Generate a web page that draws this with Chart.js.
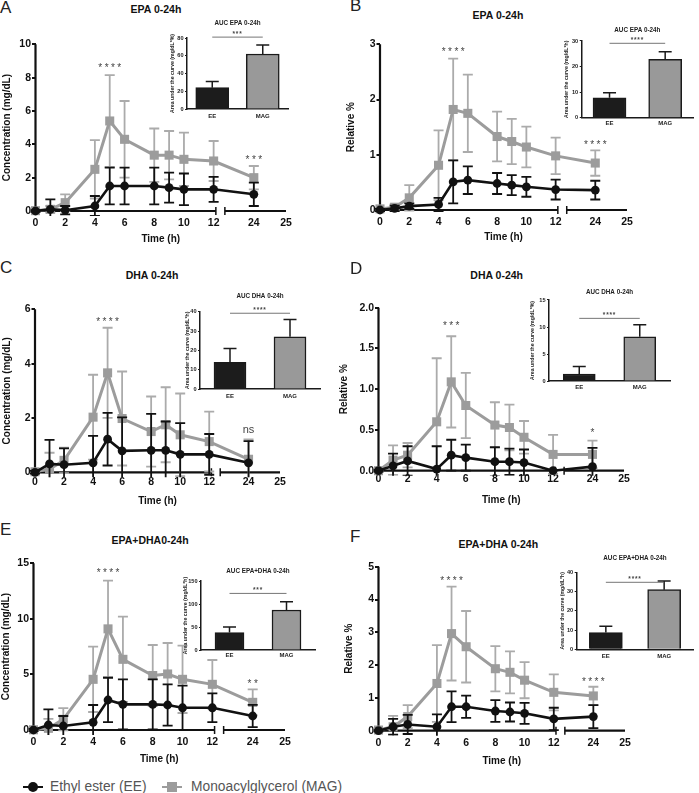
<!DOCTYPE html>
<html><head><meta charset="utf-8">
<script src="https://cdn.jsdelivr.net/npm/chart.js@4.4.1/dist/chart.umd.min.js"></script>
<style>
html,body{margin:0;padding:0;background:#fff;}
#page{position:relative;width:699px;height:793px;overflow:hidden;font-family:"Liberation Sans",Arial,sans-serif;background:#fff;}
.letter{position:absolute;font-size:17px;line-height:20px;color:#222;}
.ptitle{position:absolute;width:200px;text-align:center;font-weight:bold;font-size:10.5px;line-height:13px;color:#111;white-space:nowrap;}
.leg{position:absolute;font-size:15.5px;line-height:18px;color:#555;white-space:nowrap;transform:scaleX(0.89);transform-origin:left center;}
.blk{position:absolute;}
</style></head>
<body><div id="page"></div>
<script>
// ---------------- DATA ----------------
const TIMES = [0, 1, 2, 4, 5, 6, 8, 9, 10, 12, 24];
const X_TICKS = [0, 2, 4, 6, 8, 10, 12, 24, 25];
const SERIES_LABELS = ['Ethyl ester (EE)', 'Monoacylglycerol (MAG)'];
const AUC_LABELS = ['EE', 'MAG'];

// A: EPA concentration
const A_EE     = [0, 0.1, 0.05, 0.3, 1.5, 1.5, 1.5, 1.4, 1.3, 1.3, 1.0];
const A_EE_SD  = [0.05, 0.6, 0.25, 0.6, 1.1, 1.1, 1.1, 0.9, 0.95, 0.75, 0.7];
const A_MAG    = [0.02, 0.1, 0.5, 2.5, 5.4, 4.3, 3.35, 3.35, 3.1, 3.0, 2.0];
const A_MAG_SD = [0.05, 0.2, 0.5, 1.75, 2.75, 2.3, 1.6, 1.45, 1.6, 1.2, 0.7];
const A_MARKS  = [[5, 8.76, '****'], [24, 3.26, '***']];
const A_AUC = [24, 62], A_AUC_SD = [7, 10], A_AUC_SIG = [81, '***'];

// B: EPA relative %
const B_EE     = [0, 0.03, 0.07, 0.1, 0.51, 0.54, 0.48, 0.45, 0.42, 0.37, 0.36];
const B_EE_SD  = [0.02, 0.05, 0.05, 0.12, 0.39, 0.25, 0.19, 0.18, 0.18, 0.18, 0.17];
const B_MAG    = [0.02, 0.05, 0.22, 0.81, 1.82, 1.75, 1.33, 1.24, 1.14, 0.98, 0.85];
const B_MAG_SD = [0.02, 0.05, 0.23, 0.63, 0.92, 0.70, 0.45, 0.41, 0.37, 0.33, 0.23];
const B_MARKS  = [[5, 2.91, '****'], [24, 1.24, '****']];
const B_AUC = [7.8, 22.8], B_AUC_SD = [2.0, 3.0], B_AUC_SIG = [29.1, '****'];

// C: DHA concentration
const C_EE     = [0, 0.31, 0.28, 0.35, 1.22, 0.79, 0.81, 0.81, 0.66, 0.66, 0.35];
const C_EE_SD  = [0.05, 0.88, 0.6, 0.99, 0.97, 1.23, 1.34, 1.06, 1.15, 0.75, 0.8];
const C_MAG    = [0.02, 0.12, 0.44, 2.03, 3.66, 1.98, 1.5, 1.75, 1.38, 1.13, 0.48];
const C_MAG_SD = [0.05, 0.6, 0.47, 1.56, 1.66, 1.73, 1.29, 1.38, 1.52, 1.1, 0.73];
const C_MARKS  = [[5, 5.63, '****'], [24, 1.56, 'ns']];
const C_AUC = [13.8, 27], C_AUC_SD = [7.1, 9], C_AUC_SIG = [39.2, '****'];

// D: DHA relative %
const D_EE     = [0, 0.06, 0.12, 0.02, 0.19, 0.16, 0.11, 0.11, 0.1, 0.0, 0.05];
const D_EE_SD  = [0.01, 0.15, 0.18, 0.28, 0.19, 0.16, 0.18, 0.16, 0.16, 0, 0.23];
const D_MAG    = [0.0, 0.13, 0.19, 0.6, 1.09, 0.8, 0.56, 0.53, 0.41, 0.2, 0.2];
const D_MAG_SD = [0.01, 0.18, 0.15, 0.78, 0.56, 0.4, 0.28, 0.28, 0.2, 0.24, 0.17];
const D_MARKS  = [[5, 1.81, '***'], [24, 0.5, '*']];
const D_AUC = [1.3, 8.2], D_AUC_SD = [1.4, 2.2], D_AUC_SIG = [11.6, '****'];

// E: EPA+DHA concentration
const E_EE     = [0, 0.45, 0.36, 0.69, 2.7, 2.31, 2.31, 2.25, 2.0, 2.0, 1.26];
const E_EE_SD  = [0.1, 1.41, 0.9, 1.56, 2.0, 2.25, 2.25, 1.86, 2.0, 1.3, 1.0];
const E_MAG    = [0.02, 0.15, 0.96, 4.56, 9.1, 6.36, 4.9, 5.04, 4.56, 4.11, 2.49];
const E_MAG_SD = [0.1, 0.85, 1.0, 2.94, 4.35, 3.84, 2.75, 2.79, 3.03, 2.19, 1.17];
const E_MARKS  = [[5, 14.4, '****'], [24, 4.43, '**']];
const E_AUC = [38, 87], E_AUC_SD = [12, 18], E_AUC_SIG = [123, '***'];

// F: EPA+DHA relative %
const F_EE     = [0, 0.12, 0.19, 0.12, 0.73, 0.73, 0.6, 0.57, 0.53, 0.36, 0.43];
const F_EE_SD  = [0.02, 0.24, 0.29, 0.38, 0.47, 0.34, 0.33, 0.29, 0.32, 0.34, 0.35];
const F_MAG    = [0.02, 0.12, 0.43, 1.44, 2.96, 2.56, 1.89, 1.78, 1.54, 1.17, 1.06];
const F_MAG_SD = [0.02, 0.33, 0.35, 1.17, 1.43, 1.09, 0.69, 0.64, 0.55, 0.55, 0.28];
const F_MARKS  = [[5, 4.65, '****'], [24, 1.57, '****']];
const F_AUC = [8.7, 31], F_AUC_SD = [3.3, 4.5], F_AUC_SIG = [34.8, '****'];

const PANEL_KEYS = ['A', 'B', 'C', 'D', 'E', 'F'];
const MAIN_TITLES = ['EPA 0-24h', 'EPA 0-24h', 'DHA 0-24h', 'DHA 0-24h', 'EPA+DHA0-24h', 'EPA+DHA 0-24h'];
const Y_TITLES = ['Concentration (mg/dL)', 'Relative %', 'Concentration (mg/dL)', 'Relative %', 'Concentration (mg/dL)', 'Relative %'];
const Y_MAX = [10, 3, 6, 2, 15, 5];
const Y_STEP = [2, 1, 2, 0.5, 5, 1];
const Y_DECIMALS = [0, 0, 0, 1, 0, 0];
const AUC_TITLES = ['AUC EPA 0-24h', 'AUC EPA 0-24h', 'AUC DHA 0-24h', 'AUC DHA 0-24h', 'AUC EPA+DHA 0-24h', 'AUC EPA+DHA 0-24h'];
const AUC_Y_TITLES = ['Area under the curve (mg/dL*%)', 'Area under the curve (mg/dL*h)', 'Area under the curve (mg/dL*h)',
                      'Area under the curve (mg/dL*%)', 'Area under the curve (mg/dL*h)', 'Area under the curve (mg/dL*h)'];
const AUC_Y_MAX = [80, 30, 40, 15, 150, 40];
const AUC_Y_STEP = [20, 10, 10, 5, 50, 10];

// ---------------- LAYOUT (pixels) ----------------
const LETTER_POS = {A:[0,-1.7], B:[350,-3.7], C:[0,258.3], D:[350,258.6], E:[0,519.6], F:[350,526.6]};
const TITLE_POS = {A:[156,9.5], B:[498,15], C:[152,275], D:[496.7,275], E:[150,540], F:[498.3,544]};
const MAIN_LAYOUT = {
  A:{ytitle:7,   x0:35.5,  x1:286, yTop:44.3,  yBot:211,   xlab:223.3, timeY:239},
  B:{ytitle:351, x0:380,   x1:627, yTop:44.3,  yBot:210,   xlab:221.7, timeY:237.3},
  C:{ytitle:6.7, x0:35,    x1:280, yTop:309.3, yBot:472.3, xlab:482.3, timeY:501.7},
  D:{ytitle:344, x0:378.5, x1:624, yTop:307.7, yBot:470.7, xlab:479,   timeY:499.3},
  E:{ytitle:6,   x0:33.5,  x1:285, yTop:563.3, yBot:730,   xlab:742.3, timeY:759.3},
  F:{ytitle:349, x0:378.5, x1:625, yTop:566.7, yBot:730.7, xlab:742.7, timeY:760.7}
};
const INSET_LAYOUT = {
  A:{ylab:172, ix0:187,   ix1:288,   iyTop:38,    iyBot:109,   titleY:22.3,  catY:116,   bar:33},
  B:{ylab:566, ix0:581.7, ix1:693,   iyTop:41,    iyBot:117.7, titleY:30,    catY:123.3, bar:33},
  C:{ylab:187, ix0:200,   ix1:320,   iyTop:311.7, iyBot:389,   titleY:296,   catY:396.7, bar:32},
  D:{ylab:532, ix0:549,   ix1:670,   iyTop:300,   iyBot:381,   titleY:292,   catY:387.3, bar:32},
  E:{ylab:185, ix0:201,   ix1:315,   iyTop:581,   iyBot:650,   titleY:570.7, catY:655,   bar:29},
  F:{ylab:562, ix0:576.7, ix1:693.3, iyTop:572.3, iyBot:649.3, titleY:557.3, catY:656,   bar:33}
};
const BRK = {a: 12.15, b: 23.1, f1: 0.72, g: 0.036};
const ERR_BELOW_AXIS = 5;   // px an error bar may run below the x axis
const FONT = '"Liberation Sans", Arial, sans-serif';
const EE_COLOR = '#111111', MAG_COLOR = '#9c9c9c', MAG_ERR = '#ababab';

const PANEL_DATA = {
  A:{ee:A_EE, eeSd:A_EE_SD, mag:A_MAG, magSd:A_MAG_SD, marks:A_MARKS, auc:A_AUC, aucSd:A_AUC_SD, sig:A_AUC_SIG},
  B:{ee:B_EE, eeSd:B_EE_SD, mag:B_MAG, magSd:B_MAG_SD, marks:B_MARKS, auc:B_AUC, aucSd:B_AUC_SD, sig:B_AUC_SIG},
  C:{ee:C_EE, eeSd:C_EE_SD, mag:C_MAG, magSd:C_MAG_SD, marks:C_MARKS, auc:C_AUC, aucSd:C_AUC_SD, sig:C_AUC_SIG},
  D:{ee:D_EE, eeSd:D_EE_SD, mag:D_MAG, magSd:D_MAG_SD, marks:D_MARKS, auc:D_AUC, aucSd:D_AUC_SD, sig:D_AUC_SIG},
  E:{ee:E_EE, eeSd:E_EE_SD, mag:E_MAG, magSd:E_MAG_SD, marks:E_MARKS, auc:E_AUC, aucSd:E_AUC_SD, sig:E_AUC_SIG},
  F:{ee:F_EE, eeSd:F_EE_SD, mag:F_MAG, magSd:F_MAG_SD, marks:F_MARKS, auc:F_AUC, aucSd:F_AUC_SD, sig:F_AUC_SIG}
};

// ---------------- broken time scale ----------------
const LinearBase = Chart.LinearScale || Chart.registry.getScale('linear');
class BrokenTimeScale extends LinearBase {
  buildTicks() { return X_TICKS.map(v => ({value: v})); }
  _dec(v) {
    const {a, b, f1, g} = BRK; const min = this.min, max = this.max;
    if (v <= a) return (v - min) / (a - min) * f1;
    if (v >= b) return f1 + g + (v - b) / (max - b) * (1 - f1 - g);
    return f1 + (v - a) / (b - a) * g;
  }
  getPixelForValue(v) { return (v === null || v === undefined) ? NaN : this.getPixelForDecimal(this._dec(v)); }
  getValueForPixel(p) {
    const d = this.getDecimalForPixel(p); const {a, b, f1, g} = BRK; const min = this.min, max = this.max;
    if (d <= f1) return min + d / f1 * (a - min);
    if (d >= f1 + g) return b + (d - f1 - g) / (1 - f1 - g) * (max - b);
    return a + (d - f1) / g * (b - a);
  }
}
BrokenTimeScale.id = 'brokenTime';
Chart.register(BrokenTimeScale);

// ---------------- plugins ----------------
const errorBarPlugin = {
  id: 'errorBars',
  beforeDatasetDraw(chart, args) {
    const ds = chart.data.datasets[args.index];
    if (!ds.errors) return;
    const ctx = chart.ctx, xs = chart.scales.x, ys = chart.scales.y;
    ctx.save();
    ctx.beginPath();
    ctx.rect(0, 0, chart.width, ys.getPixelForValue(0) + ERR_BELOW_AXIS);
    ctx.clip();
    ctx.strokeStyle = ds.errorColor; ctx.lineWidth = ds.errorWidth; ctx.lineCap = 'butt';
    ds.data.forEach((pt, i) => {
      const e = ds.errors[i]; if (!e) return;
      const x = xs.getPixelForValue(pt.x);
      const yHi = ys.getPixelForValue(pt.y + e), yLo = ys.getPixelForValue(pt.y - e);
      const c = ds.capHalf;
      ctx.beginPath();
      ctx.moveTo(x, yHi); ctx.lineTo(x, yLo);
      ctx.moveTo(x - c, yHi); ctx.lineTo(x + c, yHi);
      ctx.moveTo(x - c, yLo); ctx.lineTo(x + c, yLo);
      ctx.stroke();
    });
    ctx.restore();
  }
};
const axisPlugin = {
  id: 'brokenAxes',
  beforeDatasetsDraw(chart) {
    const ctx = chart.ctx, xs = chart.scales.x, ys = chart.scales.y;
    const y0 = ys.getPixelForValue(0), xl = xs.getPixelForValue(xs.min);
    const a = xs.getPixelForValue(BRK.a), b = xs.getPixelForValue(BRK.b), e = xs.getPixelForValue(xs.max);
    ctx.save();
    ctx.strokeStyle = '#111'; ctx.lineWidth = 2.2;
    ctx.beginPath();
    ctx.moveTo(xl, y0 + 1.1); ctx.lineTo(xl, ys.getPixelForValue(ys.max));
    ctx.moveTo(xl - 1.1, y0); ctx.lineTo(a, y0);
    ctx.moveTo(b, y0); ctx.lineTo(e, y0);
    ctx.stroke();
    ctx.lineWidth = 1.5;
    ctx.beginPath();
    ctx.moveTo(a, y0 - 4); ctx.lineTo(a, y0 + 4);
    ctx.moveTo(b, y0 - 4); ctx.lineTo(b, y0 + 4);
    ctx.stroke();
    ctx.restore();
  }
};
function marksPlugin(marks) {
  return {
    id: 'marks',
    afterDatasetsDraw(chart) {
      const ctx = chart.ctx, xs = chart.scales.x, ys = chart.scales.y;
      ctx.save();
      marks.forEach(([x, y, t]) => {
        const isNs = t === 'ns';
        ctx.font = isNs ? `11px ${FONT}` : `10px ${FONT}`;
        if ('letterSpacing' in ctx) ctx.letterSpacing = isNs ? '0px' : '2.4px';
        ctx.fillStyle = '#444';
        ctx.textAlign = 'center'; ctx.textBaseline = 'alphabetic';
        const m = ctx.measureText(t);
        const off = (m.actualBoundingBoxAscent - m.actualBoundingBoxDescent) / 2;
        ctx.fillText(t, xs.getPixelForValue(x) + (isNs ? 0 : 1.2), ys.getPixelForValue(y) + off);
      });
      ctx.restore();
    }
  };
}
const barErrPlugin = {
  id: 'barErr',
  afterDatasetsDraw(chart) {
    const ctx = chart.ctx, ys = chart.scales.y;
    const ds = chart.data.datasets[0], meta = chart.getDatasetMeta(0);
    ctx.save(); ctx.strokeStyle = '#1a1a1a'; ctx.lineWidth = 1.5;
    meta.data.forEach((bar, i) => {
      const yT = ys.getPixelForValue(ds.data[i] + ds.errors[i]);
      ctx.beginPath();
      ctx.moveTo(bar.x, bar.y); ctx.lineTo(bar.x, yT);
      ctx.moveTo(bar.x - 6.5, yT); ctx.lineTo(bar.x + 6.5, yT);
      ctx.stroke();
    });
    ctx.restore();
  }
};
function sigPlugin(sig) {
  return {
    id: 'sig',
    afterDatasetsDraw(chart) {
      const ctx = chart.ctx, xs = chart.scales.x, ys = chart.scales.y;
      const y = ys.getPixelForValue(sig[0]);
      const xa = xs.getPixelForValue(0), xb = xs.getPixelForValue(1);
      ctx.save();
      ctx.strokeStyle = '#666'; ctx.lineWidth = 0.9;
      ctx.beginPath(); ctx.moveTo(xa, y); ctx.lineTo(xb, y); ctx.stroke();
      ctx.font = `bold 6.5px ${FONT}`;
      if ('letterSpacing' in ctx) ctx.letterSpacing = '0.8px';
      ctx.fillStyle = '#444'; ctx.textAlign = 'center'; ctx.textBaseline = 'alphabetic';
      ctx.fillText(sig[1], (xa + xb) / 2, y - 1.5);
      ctx.restore();
    }
  };
}

// ---------------- builders ----------------
const page = document.getElementById('page');
function mkCanvas(l, t, w, h) {
  l = Math.round(l); t = Math.round(t); w = Math.round(w); h = Math.round(h);
  const c = document.createElement('canvas');
  c.width = w; c.height = h;
  c.style.cssText = `position:absolute;left:${l}px;top:${t}px;width:${w}px;height:${h}px;`;
  page.appendChild(c);
  return {c, l, t, w, h};
}
function addDiv(cls, text, l, t, extra) {
  const d = document.createElement('div');
  d.className = cls; d.textContent = text;
  d.style.left = l + 'px'; d.style.top = t + 'px';
  if (extra) Object.assign(d.style, extra);
  page.appendChild(d); return d;
}

function drawMain(key, idx) {
  const m = MAIN_LAYOUT[key], d = PANEL_DATA[key];
  const box = mkCanvas(m.ytitle - 6, m.yTop - 14, m.x1 - (m.ytitle - 6) + 14, m.timeY + 6 - (m.yTop - 14));
  const padTop = m.yTop - box.t;
  const padRight = box.l + box.w - m.x1;
  const yW = m.x0 - box.l;
  const xH = box.t + box.h - m.yBot;
  const dec = Y_DECIMALS[idx];
  const pts = arr => TIMES.map((t, i) => ({x: t, y: arr[i]}));
  new Chart(box.c, {
    type: 'line',
    data: {datasets: [
      {label: SERIES_LABELS[0], data: pts(d.ee), errors: d.eeSd, errorColor: EE_COLOR, errorWidth: 1.8, capHalf: 5,
       borderColor: EE_COLOR, backgroundColor: EE_COLOR, borderWidth: 2.6, pointStyle: 'circle', pointRadius: 4.4,
       pointBorderWidth: 0, pointBackgroundColor: EE_COLOR, clip: false},
      {label: SERIES_LABELS[1], data: pts(d.mag), errors: d.magSd, errorColor: MAG_ERR, errorWidth: 1.8, capHalf: 5,
       borderColor: MAG_COLOR, backgroundColor: MAG_COLOR, borderWidth: 3, pointStyle: 'rect', pointRadius: 6.4,
       pointBorderWidth: 0, pointBackgroundColor: MAG_COLOR, clip: false}
    ]},
    options: {
      responsive: false, animation: false, devicePixelRatio: 1, events: [],
      layout: {padding: {top: padTop, right: padRight, left: 0, bottom: 0}},
      plugins: {legend: {display: false}, tooltip: {enabled: false}, title: {display: false}},
      scales: {
        x: {type: 'brokenTime', min: 0, max: 25,
            afterFit(s) { s.height = xH; },
            grid: {display: false, drawTicks: false}, border: {display: false},
            ticks: {autoSkip: false, maxRotation: 0, minRotation: 0, padding: m.xlab - m.yBot - 6.3,
                    font: {family: FONT, size: 10.5, weight: 'bold'}, color: '#111', callback: v => String(v)},
            title: {display: true, text: 'Time (h)', padding: 0, color: '#111', font: {family: FONT, size: 10, weight: 'bold'}}},
        y: {min: 0, max: Y_MAX[idx],
            afterFit(s) { s.width = yW; },
            grid: {drawOnChartArea: false, drawTicks: true, tickLength: 3.5, color: '#111', tickColor: '#111', lineWidth: 2},
            border: {display: false},
            ticks: {stepSize: Y_STEP[idx], padding: 1, color: '#111', font: {family: FONT, size: 10.5, weight: 'bold'},
                    callback: v => Number(v).toFixed(dec)},
            title: {display: true, text: Y_TITLES[idx], padding: 0, color: '#111', font: {family: FONT, size: 10, weight: 'bold'}}}
      }
    },
    plugins: [errorBarPlugin, axisPlugin, marksPlugin(d.marks)]
  });
}

function drawInset(key, idx) {
  const I = INSET_LAYOUT[key], d = PANEL_DATA[key];
  const cl = I.ylab - 3.12;
  const ct = I.titleY - 3.78 - 2;
  const xh = 12;
  const box = mkCanvas(cl, ct, I.ix1 - cl + 3, I.iyBot + xh - ct);
  const titlePadBottom = I.iyTop - (box.t + 2 + 7.56);
  const padRight = box.l + box.w - I.ix1;
  const yW = I.ix0 - box.l;
  const xH = box.t + box.h - I.iyBot;
  new Chart(box.c, {
    type: 'bar',
    data: {labels: AUC_LABELS, datasets: [{
      data: d.auc, errors: d.aucSd,
      backgroundColor: ['#1c1c1c', '#999999'], borderColor: '#1a1a1a', borderWidth: 1.5,
      barThickness: I.bar
    }]},
    options: {
      responsive: false, animation: false, devicePixelRatio: 1, events: [],
      layout: {padding: {top: 0, right: padRight, left: 0, bottom: 0}},
      plugins: {legend: {display: false}, tooltip: {enabled: false},
        title: {display: true, text: AUC_TITLES[idx], fullSize: false, color: '#222',
                font: {family: FONT, size: 6.3, weight: 'bold'}, padding: {top: 2, bottom: titlePadBottom}}},
      scales: {
        x: {afterFit(s) { s.height = xH; },
            grid: {display: false, drawTicks: false}, border: {display: true, color: '#1a1a1a', width: 1.5},
            ticks: {padding: I.catY - I.iyBot - 3.6, color: '#222', font: {family: FONT, size: 6, weight: 'bold'}}},
        y: {min: 0, max: AUC_Y_MAX[idx],
            afterFit(s) { s.width = yW; },
            grid: {drawOnChartArea: false, drawTicks: true, tickLength: 2, color: '#1a1a1a', tickColor: '#1a1a1a', lineWidth: 1},
            border: {display: true, color: '#1a1a1a', width: 1.5},
            ticks: {stepSize: AUC_Y_STEP[idx], padding: 1.5, color: '#222', font: {family: FONT, size: 5.6, weight: 'bold'}},
            title: {display: true, text: AUC_Y_TITLES[idx], padding: 0, color: '#222', font: {family: FONT, size: 5.2, weight: 'bold'}}}
      }
    },
    plugins: [barErrPlugin, sigPlugin(d.sig)]
  });
}

PANEL_KEYS.forEach((k, i) => {
  drawMain(k, i);
  drawInset(k, i);
  addDiv('letter', k, LETTER_POS[k][0], LETTER_POS[k][1]);
  addDiv('ptitle', MAIN_TITLES[i], TITLE_POS[k][0] - 100, TITLE_POS[k][1] - 6.5);
});

// ---------------- shared legend ----------------
addDiv('blk', '', 23, 785.5, {width: '20px', height: '2.6px', background: EE_COLOR});
addDiv('blk', '', 28, 781.8, {width: '10px', height: '10px', borderRadius: '50%', background: EE_COLOR});
addDiv('leg', SERIES_LABELS[0], 50, 776.5);
addDiv('blk', '', 162, 785.5, {width: '20px', height: '2.8px', background: MAG_COLOR});
addDiv('blk', '', 167, 781.8, {width: '10px', height: '10px', background: MAG_COLOR});
addDiv('leg', SERIES_LABELS[1], 191, 776.5);
</script>
</body></html>
